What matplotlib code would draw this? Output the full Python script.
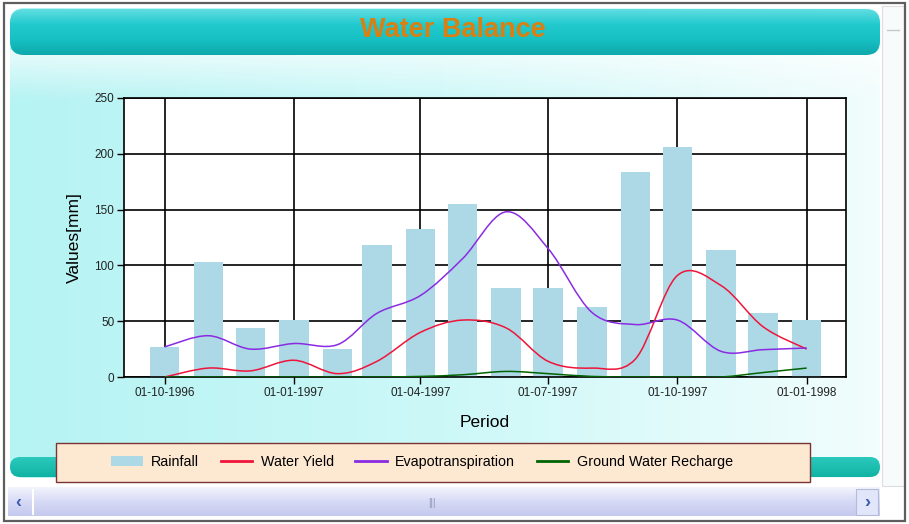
import numpy as np
import pandas as pd
import matplotlib
matplotlib.use('Agg')
import matplotlib.pyplot as plt
import matplotlib.dates as mdates
from matplotlib.path import Path
from matplotlib.patches import PathPatch, FancyBboxPatch, Rectangle, Patch
from matplotlib.lines import Line2D
from matplotlib.colors import LinearSegmentedColormap

plt.rcParams['font.family'] = ['Liberation Sans', 'DejaVu Sans']

# monthly values, Oct 1996 .. Jan 1998
months = pd.date_range('1996-10-01', '1998-01-01', freq='MS')
rainfall = [27, 103, 44, 51, 25, 118, 133, 155, 80, 80, 63, 184, 206, 114, 57, 51]
water_yield = [0, 8, 5.5, 15, 3, 14, 40, 51, 44, 14, 8, 16, 91, 82, 45, 25]
evapotranspiration = [27, 37, 25, 30, 29, 57, 73, 106, 148, 115, 58, 47, 51, 23, 24.5, 26]
ground_water = [0, 0, 0, 0, 0, 0, 0.5, 2, 5, 3, 0.5, 0, 0, 0, 4, 8]

tick_dates = pd.to_datetime(['1996-10-01', '1997-01-01', '1997-04-01',
                             '1997-07-01', '1997-10-01', '1998-01-01'])


def spline_path(x, y, tension=0.5):
    # cardinal spline as bezier segments (like the .NET chart "Spline" type)
    p = np.column_stack([x, y]).astype(float)
    n = len(p)
    k = tension / 3.0
    verts = [p[0]]
    codes = [Path.MOVETO]
    for i in range(n - 1):
        p_prev = p[max(i - 1, 0)]
        p_next2 = p[min(i + 2, n - 1)]
        c1 = p[i] + k * (p[i + 1] - p_prev)
        c2 = p[i + 1] - k * (p_next2 - p[i])
        verts += [c1, c2, p[i + 1]]
        codes += [Path.CURVE4] * 3
    return Path(verts, codes)


def gradient(ax, x0, y0, x1, y1, colors, vertical=True, clip=None, z=0):
    cmap = LinearSegmentedColormap.from_list('g', colors)
    g = np.linspace(0, 1, 256)
    g = g.reshape(-1, 1) if vertical else g.reshape(1, -1)
    im = ax.imshow(g, cmap=cmap, extent=(x0, x1, y1, y0), aspect='auto',
                   interpolation='bicubic', zorder=z)
    if clip is not None:
        ax.add_patch(clip)
        clip.set_visible(False)
        im.set_clip_path(clip)
    return im


W, H = 909, 524
fig = plt.figure(figsize=(W / 100, H / 100), dpi=100, facecolor='white')

# ---- background "control" decoration, in pixel coords
bg = fig.add_axes([0, 0, 1, 1])
bg.set_axis_off()

panel = FancyBboxPatch((10, 8), 870, 470, boxstyle='round,pad=0,rounding_size=14',
                       transform=bg.transData)
gradient(bg, 10, 8, 880, 478, ['#B6F3F3', '#CDF8F8', '#F2FDFD'], vertical=False, clip=panel, z=0)
fade = FancyBboxPatch((10, 8), 870, 470, boxstyle='round,pad=0,rounding_size=14',
                      transform=bg.transData)
gradient(bg, 10, 50, 880, 100, [(1, 1, 1, 0.7), (1, 1, 1, 0.0)], clip=fade, z=0.5)

top_band = FancyBboxPatch((10, 9), 870, 46, boxstyle='round,pad=0,rounding_size=14',
                          transform=bg.transData)
gradient(bg, 10, 9, 880, 55, ['#62DEE2', '#22CACE', '#16C0C3', '#0EA8AB'], clip=top_band, z=1)

bottom_band = FancyBboxPatch((10, 457), 870, 20, boxstyle='round,pad=0,rounding_size=10',
                             transform=bg.transData)
gradient(bg, 10, 457, 880, 477, ['#2BC9BD', '#10B3A3'], clip=bottom_band, z=1)

bg.add_patch(Rectangle((882, 6), 22, 480, facecolor='#F8FBFB', edgecolor='#DDDDDD', lw=0.8, zorder=1))
bg.plot([887, 899], [30, 30], color='#C8C8C8', lw=1, zorder=2)

scroll = Rectangle((8, 487), 872, 29, transform=bg.transData)
gradient(bg, 8, 487, 880, 516, ['#F4F5FD', '#D6DAF5', '#C4C9EE'], clip=scroll, z=1)
bg.plot([33, 33], [490, 514], color='white', lw=1.5, zorder=2)
bg.text(18, 502, '‹', color='#3A5BB0', fontsize=13, fontweight='bold', ha='center', va='center', zorder=3)
bg.text(432, 503, '|||', color='#8A90B8', fontsize=7, ha='center', va='center', zorder=3)
bg.add_patch(Rectangle((856, 489), 22, 26, facecolor='#E2E6FA', edgecolor='#B4BADA', lw=0.8, zorder=2))
bg.text(867, 502, '›', color='#3A5BB0', fontsize=13, fontweight='bold', ha='center', va='center', zorder=3)

bg.add_patch(Rectangle((4, 3), 901, 518, fill=False, edgecolor='#5E5E5E', lw=1.6, zorder=4))

# legend box
bg.add_patch(Rectangle((56, 443), 754, 39, facecolor='#FDE8D2', edgecolor='#7A3434', lw=1.0, zorder=3))

bg.text(453, 30, 'Water Balance', color='#DA7F12', fontsize=19.5, fontweight='bold',
        ha='center', va='center', zorder=5)

bg.set_xlim(0, W)
bg.set_ylim(H, 0)

# ---- chart
ax = fig.add_axes([124 / W, 1 - 377 / H, (846 - 124) / W, (377 - 98) / H])
ax.set_zorder(2)
ax.set_facecolor('white')

x = mdates.date2num(months)
ax.bar(x, rainfall, width=21, color='lightblue', zorder=2)

series = [(water_yield, '#F0143A'), (evapotranspiration, '#8A2BE2'), (ground_water, '#006400')]
for vals, col in series:
    ax.add_patch(PathPatch(spline_path(x, vals), fill=False, edgecolor=col, lw=1.1, zorder=3))

ax.set_xlim(mdates.date2num(pd.Timestamp('1996-09-02')), mdates.date2num(pd.Timestamp('1998-01-29')))
ax.set_ylim(0, 250)
ax.set_yticks(np.arange(0, 251, 50))
ax.set_xticks(mdates.date2num(tick_dates))
ax.xaxis.set_major_formatter(mdates.DateFormatter('%d-%m-%Y'))
ax.grid(True, color='black', lw=1.2)
ax.set_axisbelow(True)
for s in ax.spines.values():
    s.set_color('black')
    s.set_linewidth(1.2)
ax.tick_params(axis='both', direction='out', length=5, width=1, color='black',
               labelsize=8.5, labelcolor='#222222', pad=2)
ax.set_xlabel('Period', fontsize=12.5, labelpad=12)
ax.set_ylabel('Values[mm]', fontsize=12.5, labelpad=9)

handles = [Patch(facecolor='lightblue', edgecolor='none'),
           Line2D([], [], color='#F0143A', lw=2),
           Line2D([], [], color='#8A2BE2', lw=2),
           Line2D([], [], color='#006400', lw=2)]
labels = ['Rainfall', 'Water Yield', 'Evapotranspiration', 'Ground Water Recharge']
fig.legend(handles, labels, loc='center', bbox_to_anchor=(422 / W, 1 - 462 / H),
           ncol=4, frameon=False, fontsize=10.3, handlelength=2.2, handletextpad=0.6,
           columnspacing=1.5)

fig.savefig('out.png', dpi=100)
